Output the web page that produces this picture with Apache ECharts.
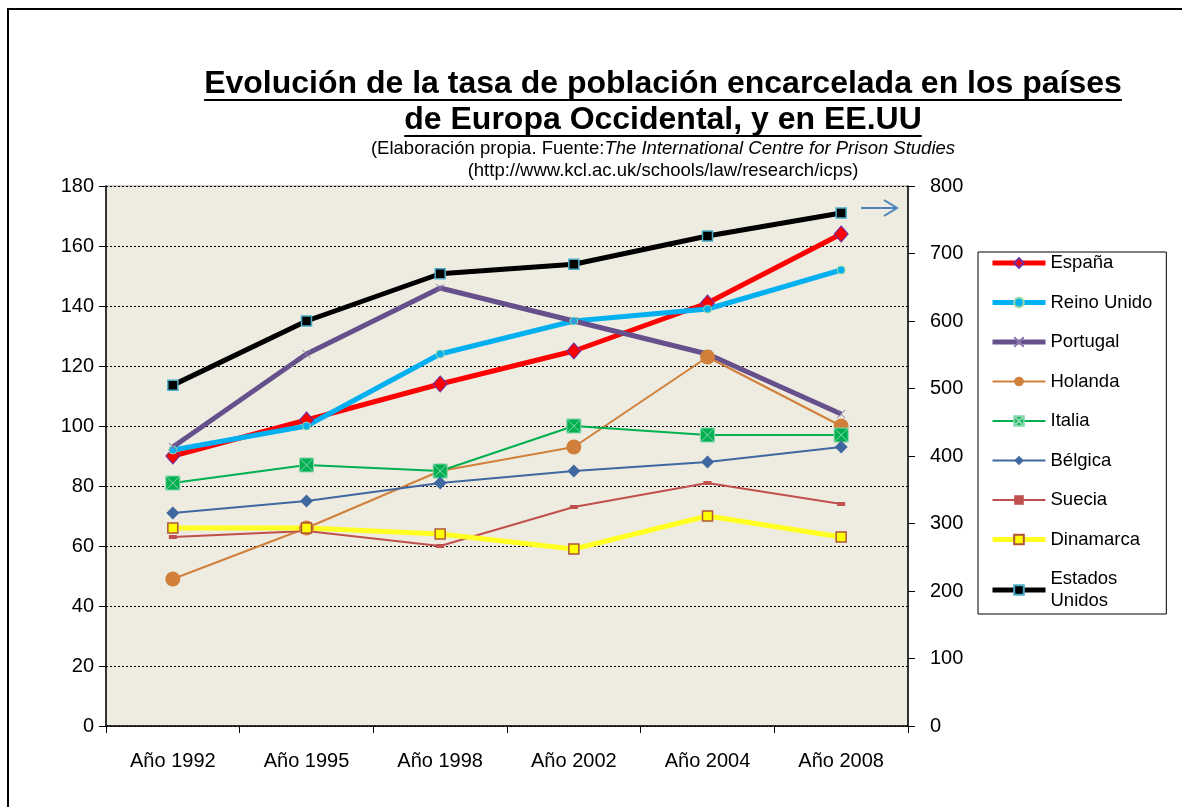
<!DOCTYPE html>
<html>
<head>
<meta charset="utf-8">
<title>Tasa de población encarcelada</title>
<script src="https://cdn.jsdelivr.net/npm/echarts@6/dist/echarts.min.js"></script>
<style>
  html, body { margin: 0; padding: 0; background: #fff; }
  #chart { width: 1182px; height: 807px; }
</style>
</head>
<body>
<div id="chart"></div>
<script>
// datos
var years = ['Año 1992', 'Año 1995', 'Año 1998', 'Año 2002', 'Año 2004', 'Año 2008'];
var espana = [90, 102, 114, 125, 141, 164];
var reinoUnido = [92, 100, 124, 135, 139, 152];
var portugal = [93, 124, 146, 135, 124, 104];
var holanda = [49, 66, 85, 93, 123, 100];
var italia = [81, 87, 85, 100, 97, 97];
var belgica = [71, 75, 81, 85, 88, 93];
var suecia = [63, 65, 60, 73, 81, 74];
var dinamarca = [66, 66, 64, 59, 70, 63];
// EE.UU va en el eje derecho
var estadosUnidos = [505, 600, 670, 684, 726, 760];

var leftTicks = { min: 0, max: 180, step: 20 };
var rightTicks = { min: 0, max: 800, step: 100 };

var FONT = '"Liberation Sans", Arial, sans-serif';

function textWidth(txt, font) {
	var ctx = document.createElement('canvas').getContext('2d');
	ctx.font = font;
	return ctx.measureText(txt).width;
}

function serie(name, data, color, width, symbol, size, border, borderW, axis) {
	return {
		name: name,
		type: 'line',
		data: data,
		yAxisIndex: axis || 0,
		symbol: symbol,
		symbolSize: size,
		showSymbol: true,
		lineStyle: { color: color, width: width },
		itemStyle: { color: color, borderColor: border || color, borderWidth: borderW || 0 },
		emphasis: { disabled: true },
		animation: false
	};
}

var xPath = 'path://M0,0L10,10M10,0L0,10';
var boxX = 'path://M0,0L10,0L10,10L0,10Z M0,0L10,10 M10,0L0,10';

function showChart() {
	var myChart = echarts.init(document.getElementById('chart'));

	var t1 = 'Evolución de la tasa de población encarcelada en los países';
	var t2 = 'de Europa Occidental, y en EE.UU';
	var titleFont = 'bold 32px ' + FONT;
	var w1 = textWidth(t1, titleFont);
	var w2 = textWidth(t2, titleFont);
	var cx = 663;

	var series = [
		serie('España', espana, '#FF0000', 5, 'diamond', [14, 16], '#7030A0', 1),
		serie('Reino Unido', reinoUnido, '#00B0F0', 5, 'circle', 8, '#9BD7A0', 1),
		serie('Portugal', portugal, '#66508C', 5, xPath, 8, '#8C78AE', 1),
		serie('Holanda', holanda, '#D0803A', 2, 'circle', 15),
		serie('Italia', italia, '#00B050', 2, boxX, 14, '#86D6AC', 1),
		serie('Bélgica', belgica, '#4068A0', 2, 'diamond', 13),
		serie('Suecia', suecia, '#C0504D', 2, 'rect', [8, 4]),
		serie('Dinamarca', dinamarca, '#FFFF22', 5, 'rect', 10, '#B0553A', 1.5),
		serie('Estados Unidos', estadosUnidos, '#000000', 5, 'rect', 10, '#4BACC6', 1.5, 1)
	];
	series[7].itemStyle.color = '#FFFF00';

	// entradas de la leyenda con el grosor de cada línea
	var legendData = series.map(function (s) {
		return { name: s.name, lineStyle: { width: s.lineStyle.width } };
	});

	var option = {
		backgroundColor: '#fff',
		textStyle: { fontFamily: FONT },
		grid: {
			left: 106, right: 274, top: 186, bottom: 81,
			show: true,
			backgroundColor: '#EEEBE0',
			borderColor: '#9a9a9a',
			borderWidth: 1
		},
		legend: {
			data: legendData,
			orient: 'vertical',
			left: 978,
			top: 252,
			padding: [0, 14, 2, 12],
			itemWidth: 53,
			itemHeight: 12,
			itemGap: 17.5,
			borderColor: '#000',
			borderWidth: 1,
			backgroundColor: '#fff',
			textStyle: { fontSize: 18.5, color: '#000', lineHeight: 22, fontFamily: FONT },
			formatter: function (name) {
				return name === 'Estados Unidos' ? 'Estados\nUnidos' : name;
			},
			selectedMode: false
		},
		xAxis: {
			type: 'category',
			data: years,
			boundaryGap: true,
			axisLine: { lineStyle: { color: '#000', width: 1.5 } },
			axisTick: { show: true, length: 7, interval: 0, lineStyle: { color: '#000' } },
			axisLabel: { fontSize: 20, color: '#000', margin: 25, interval: 0 },
			splitLine: { show: false }
		},
		yAxis: [{
			type: 'value',
			min: leftTicks.min, max: leftTicks.max, interval: leftTicks.step,
			axisLine: { show: true, lineStyle: { color: '#000', width: 1.5 } },
			axisTick: { show: true, length: 7, lineStyle: { color: '#000' } },
			axisLabel: { fontSize: 20, color: '#000', margin: 12 },
			splitLine: { show: true, lineStyle: { color: '#000', type: [2, 2], width: 1 } }
		}, {
			type: 'value',
			position: 'right',
			min: rightTicks.min, max: rightTicks.max, interval: rightTicks.step,
			axisLine: { show: true, lineStyle: { color: '#000', width: 1.5 } },
			axisTick: { show: true, length: 7, lineStyle: { color: '#000' } },
			axisLabel: { fontSize: 20, color: '#000', margin: 22 },
			splitLine: { show: false }
		}],
		series: series,
		graphic: [
			// marco exterior
			{ type: 'rect', shape: { x: 8, y: 9, width: 1300, height: 900 }, style: { fill: 'none', stroke: '#000', lineWidth: 2 }, silent: true },
			// título
			{ type: 'text', style: { x: cx, y: 84, text: t1, font: titleFont, fill: '#000', align: 'center', verticalAlign: 'middle' } },
			{ type: 'text', style: { x: cx, y: 120, text: t2, font: titleFont, fill: '#000', align: 'center', verticalAlign: 'middle' } },
			{ type: 'line', shape: { x1: cx - w1 / 2, y1: 100, x2: cx + w1 / 2, y2: 100 }, style: { stroke: '#000', lineWidth: 2 } },
			{ type: 'line', shape: { x1: cx - w2 / 2, y1: 136, x2: cx + w2 / 2, y2: 136 }, style: { stroke: '#000', lineWidth: 2 } },
			// subtítulo
			{ type: 'text', style: {
				x: cx, y: 149, align: 'center', verticalAlign: 'middle',
				text: '{n|(Elaboración propia. Fuente:}{i|The International Centre for Prison Studies}',
				rich: {
					n: { fontSize: 18.5, fontFamily: FONT, fill: '#000' },
					i: { fontSize: 18.5, fontFamily: FONT, fontStyle: 'italic', fill: '#000' }
				}
			} },
			{ type: 'text', style: { x: cx, y: 171, text: '(http://www.kcl.ac.uk/schools/law/research/icps)', font: '18.5px ' + FONT, fill: '#000', align: 'center', verticalAlign: 'middle' } },
			// flecha azul que señala el eje derecho
			{ type: 'polyline', shape: { points: [[861, 208], [897, 208]] }, style: { stroke: '#4F81BD', lineWidth: 2 }, z: 10 },
			{ type: 'polyline', shape: { points: [[884, 200], [897, 208], [884, 216]] }, style: { stroke: '#4F81BD', lineWidth: 2, fill: 'none' }, z: 10 }
		]
	};
	myChart.setOption(option);
}
showChart();
</script>
</body>
</html>
